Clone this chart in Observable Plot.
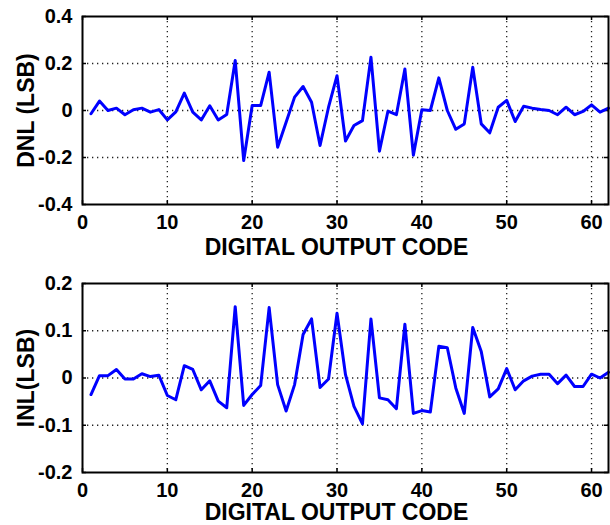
<!DOCTYPE html>
<html><head><meta charset="utf-8">
<script src="https://cdn.jsdelivr.net/npm/d3@7"></script>
<script src="https://cdn.jsdelivr.net/npm/@observablehq/plot@0.6"></script>
<style>body{margin:0;background:#fff} #c svg{display:block}</style>
</head><body><div id="c"></div>
<script>
const codes = [1,2,3,4,5,6,7,8,9,10,11,12,13,14,15,16,17,18,19,20,21,22,23,24,25,26,27,28,29,30,31,32,33,34,35,36,37,38,39,40,41,42,43,44,45,46,47,48,49,50,51,52,53,54,55,56,57,58,59,60,61,62];
const dnl = [-0.014,0.04,0.0,0.01,-0.018,0.003,0.01,-0.007,0.004,-0.04,-0.006,0.074,-0.007,-0.04,0.02,-0.04,-0.017,0.213,-0.213,0.021,0.021,0.163,-0.156,-0.05,0.057,0.102,0.035,-0.149,0.014,0.148,-0.13,-0.064,-0.043,0.227,-0.173,-0.003,-0.018,0.177,-0.19,0.003,0.0,0.139,0.0,-0.08,-0.057,0.184,-0.057,-0.095,0.014,0.043,-0.047,0.018,0.01,0.004,0.0,-0.018,0.014,-0.018,-0.004,0.024,-0.007,0.01];
const inl = [-0.035,0.005,0.005,0.018,-0.002,-0.002,0.009,0.003,0.006,-0.037,-0.046,0.026,0.018,-0.025,-0.006,-0.049,-0.063,0.151,-0.058,-0.035,-0.016,0.149,-0.014,-0.07,-0.014,0.092,0.125,-0.02,-0.002,0.137,0.007,-0.06,-0.097,0.125,-0.042,-0.046,-0.065,0.114,-0.075,-0.069,-0.072,0.067,0.064,-0.021,-0.075,0.107,0.056,-0.04,-0.023,0.02,-0.025,-0.006,0.004,0.008,0.008,-0.012,0.006,-0.018,-0.018,0.008,0.0,0.012];
const xTicks = [0,10,20,30,40,50,60];
const xTickLabels = ["0","10","20","30","40","50","60"];
const dnlTicks = [-0.4,-0.2,0,0.2,0.4];
const dnlTickLabels = ["-0.4","-0.2","0","0.2","0.4"];
const inlTicks = [-0.2,-0.1,0,0.1,0.2];
const inlTickLabels = ["-0.2","-0.1","0","0.1","0.2"];
const xLabel = "DIGITAL OUTPUT CODE";

const W = 610, ML = 82, MR = 2;
const FONT = "'Liberation Sans', Arial, Helvetica, sans-serif";
function chart(values, yTicks, yTickLabels, yLabel, height, mt, mb, labelDy) {
  const ph = height - mt - mb, pw = W - ML - MR;
  const data = codes.map((c, i) => ({x: c, y: values[i]}));
  const dotted = {stroke: "#222", strokeWidth: 1.3, strokeDasharray: "1.3,3.7"};
  const tk = {stroke: "#000", strokeWidth: 1.5};
  return Plot.plot({
    width: W, height, marginLeft: ML, marginRight: MR, marginTop: mt, marginBottom: mb,
    style: {fontFamily: FONT, fontWeight: "bold", fontSize: "20px", color: "#000", background: "#fff"},
    x: {domain: [0, 62]},
    y: {domain: [yTicks[0], yTicks[yTicks.length - 1]]},
    marks: [
      Plot.ruleX(xTicks.slice(1), dotted),
      Plot.ruleY(yTicks.slice(1, -1), dotted),
      Plot.ruleX(xTicks, {...tk, insetTop: ph - 4}),
      Plot.ruleX(xTicks, {...tk, insetBottom: ph - 4}),
      Plot.ruleY(yTicks, {...tk, insetRight: pw - 4}),
      Plot.ruleY(yTicks, {...tk, insetLeft: pw - 4}),
      Plot.line(data, {x: "x", y: "y", stroke: "#0000ff", strokeWidth: 3}),
      Plot.frame({stroke: "#000", strokeWidth: 2}),
      Plot.axisX(xTicks, {tickSize: 0, tickPadding: 10, fontSize: 20, fontWeight: "bold", label: null,
        tickFormat: d => xTickLabels[xTicks.indexOf(d)]}),
      Plot.axisY(yTicks, {tickSize: 0, tickPadding: 10, fontSize: 20, fontWeight: "bold", label: null,
        tickFormat: d => yTickLabels[yTicks.indexOf(d)]}),
      Plot.text([yLabel], {frameAnchor: "left", rotate: -90, dx: -56, textAnchor: "middle", lineAnchor: "middle",
        fontSize: 23, fontWeight: "bold", fill: "#000"}),
      Plot.text([xLabel], {frameAnchor: "bottom", dx: -9, dy: labelDy, textAnchor: "middle", lineAnchor: "middle",
        fontSize: 23, fontWeight: "bold", fill: "#000"})
    ]
  });
}
const c = document.getElementById("c");
c.append(chart(dnl, dnlTicks, dnlTickLabels, "DNL (LSB)", 262, 16, 58, 43));
c.append(chart(inl, inlTicks, inlTickLabels, "INL(LSB)", 263, 21, 53, 40));
</script>
</body></html>
